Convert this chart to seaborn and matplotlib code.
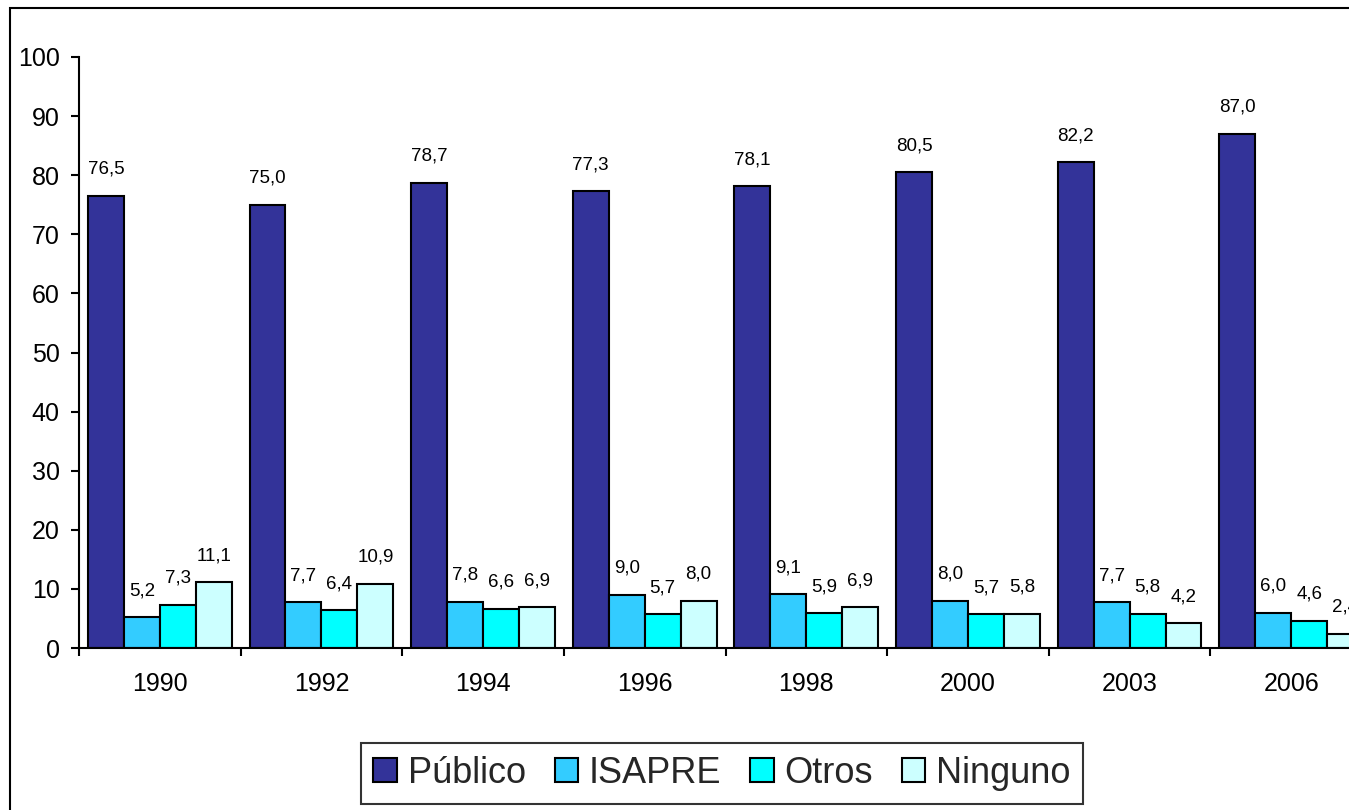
import matplotlib
matplotlib.use("Agg")
import matplotlib.pyplot as plt
from matplotlib.patches import Rectangle
from matplotlib.ticker import FixedLocator
import seaborn as sns
import pandas as pd

years = ["1990", "1992", "1994", "1996", "1998", "2000", "2003", "2006"]
series = ["Público", "ISAPRE", "Otros", "Ninguno"]
publico = [76.5, 75.0, 78.7, 77.3, 78.1, 80.5, 82.2, 87.0]
isapre = [5.2, 7.7, 7.8, 9.0, 9.1, 8.0, 7.7, 6.0]
otros = [7.3, 6.4, 6.6, 5.7, 5.9, 5.7, 5.8, 4.6]
ninguno = [11.1, 10.9, 6.9, 8.0, 6.9, 5.8, 4.2, 2.4]
colors = ["#333399", "#33CCFF", "#00FFFF", "#CCFFFF"]

rows = []
for name, vals in zip(series, [publico, isapre, otros, ninguno]):
    for y, v in zip(years, vals):
        rows.append({"Año": y, "Sistema": name, "Valor": v})
df = pd.DataFrame(rows)

sns.set_theme(style="white")
plt.rcParams["font.family"] = ["Liberation Sans", "DejaVu Sans"]

fig = plt.figure(figsize=(13.49, 8.10), dpi=100)
ax = fig.add_axes([79 / 1349, 0.2, 1293 / 1349, (648 - 57) / 810])

sns.barplot(data=df, x="Año", y="Valor", hue="Sistema", order=years,
            hue_order=series, palette=colors, width=0.89, edgecolor="black",
            linewidth=1.5, saturation=1, errorbar=None, ax=ax, legend=True)

for c in ax.containers:
    ax.bar_label(c, fmt=lambda v: f"{v:.1f}".replace(".", ","), padding=13,
                 fontsize=13.5, color="black")

ax.set_xlim(-0.5, 7.5)
ax.set_ylim(0, 100)
ax.set_yticks(range(0, 101, 10))
ax.tick_params(axis="y", which="major", direction="out", length=6, width=1.5,
               pad=8, labelsize=18, left=True, colors="black")
ax.xaxis.set_major_locator(FixedLocator([i - 0.5 for i in range(9)]))
ax.xaxis.set_minor_locator(FixedLocator(list(range(8))))
ax.set_xticklabels([""] * 9)
ax.set_xticklabels(years, minor=True)
ax.tick_params(axis="x", which="major", direction="out", length=6, width=1.5,
               bottom=True, colors="black")
ax.tick_params(axis="x", which="minor", length=0, pad=17, labelsize=18,
               colors="black")
ax.set_xlabel("")
ax.set_ylabel("")
for s in ["top", "right"]:
    ax.spines[s].set_visible(False)
for s in ["left", "bottom"]:
    ax.spines[s].set_color("black")
    ax.spines[s].set_linewidth(1.5)
ax.grid(False)

handles, labels = ax.get_legend_handles_labels()
ax.get_legend().remove()
leg = fig.legend(handles, labels, loc="center", bbox_to_anchor=(722 / 1349, 1 - 773.5 / 810),
                 ncol=4, fontsize=26, frameon=True, fancybox=False,
                 edgecolor="black", handlelength=0.65, handleheight=0.65,
                 handletextpad=0.3, columnspacing=0.8, borderpad=0.35,
                 borderaxespad=0)
leg.get_frame().set_linewidth(1.5)

fig.patches.append(Rectangle((10 / 1349, -0.1), 2.0, 1.1 - 8 / 810,
                             transform=fig.transFigure, fill=False,
                             edgecolor="black", linewidth=1.5, clip_on=False))

fig.savefig("out.png", dpi=100)
